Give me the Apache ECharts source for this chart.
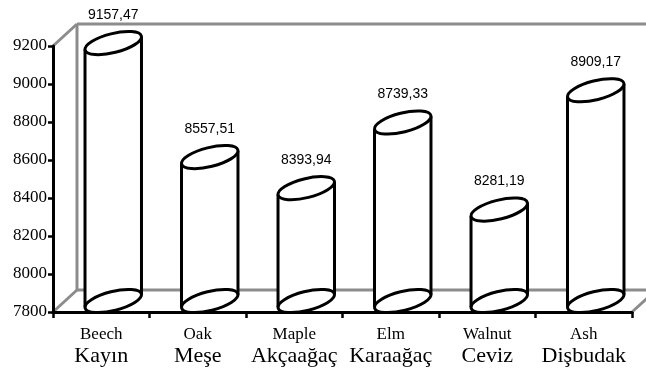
<!DOCTYPE html>
<html>
<head>
<meta charset="utf-8">
<script src="https://cdn.jsdelivr.net/npm/echarts@6/dist/echarts.min.js"></script>
<style>
  html, body { margin: 0; padding: 0; background: #ffffff; }
  #chart { width: 646px; height: 372px; }
</style>
</head>
<body>
<div id="chart"></div>
<script>
// Wood species (English / Turkish) and their measured values
const categoriesEn = ['Beech', 'Oak', 'Maple', 'Elm', 'Walnut', 'Ash'];
const categoriesTr = ['Kayın', 'Meşe', 'Akçaağaç', 'Karaağaç', 'Ceviz', 'Dişbudak'];
const values = [9157.47, 8557.51, 8393.94, 8739.33, 8281.19, 8909.17];

// Value axis range
const yMin = 7800;
const yMax = 9200;
const yStep = 200;

// Pseudo-3D depth of the chart box, in pixels
const DEPTH_X = 24;
const DEPTH_Y = -22;

// Cylinder cross-section (rotated ellipse)
const RX = 29;
const RY = 9.5;
const TILT = 14 * Math.PI / 180;

const SERIF = '"Liberation Serif", "Times New Roman", serif';

const chart = echarts.init(document.getElementById('chart'), null, { renderer: 'canvas' });

const fmt = v => v.toFixed(2).replace('.', ',');

function renderFrame(params, api) {
  const cs = params.coordSys;
  const L = cs.x, T = cs.y, R = cs.x + cs.width, B = cs.y + cs.height;
  const style = { stroke: '#8c8c8c', lineWidth: 3, fill: null };
  const seg = (x1, y1, x2, y2) => ({
    type: 'line',
    shape: { x1, y1, x2, y2 },
    style
  });
  return {
    type: 'group',
    children: [
      seg(L, T, L + DEPTH_X, T + DEPTH_Y),
      seg(L, B, L + DEPTH_X, B + DEPTH_Y),
      seg(R, B, R + DEPTH_X, B + DEPTH_Y),
      seg(L + DEPTH_X, T + DEPTH_Y, L + DEPTH_X, B + DEPTH_Y),
      seg(L + DEPTH_X, T + DEPTH_Y, R + DEPTH_X, T + DEPTH_Y),
      seg(L + DEPTH_X, B + DEPTH_Y, R + DEPTH_X, B + DEPTH_Y),
      seg(R + DEPTH_X, T + DEPTH_Y, R + DEPTH_X, B + DEPTH_Y)
    ]
  };
}

function renderCylinder(params, api) {
  const idx = api.value(0);
  const val = api.value(1);
  const base = api.coord([idx, yMin]);
  const top = api.coord([idx, val]);
  const cx = base[0] + DEPTH_X / 2;
  const botY = base[1] + DEPTH_Y / 2;
  const topY = top[1] + DEPTH_Y / 2;

  const s = Math.sin(TILT), c = Math.cos(TILT);
  const hw = Math.sqrt(RX * RX * c * c + RY * RY * s * s);
  const ty = (RX * RX - RY * RY) * s * c / hw;

  const outline = { stroke: '#000', lineWidth: 3 };
  const ellipse = (cy) => ({
    type: 'ellipse',
    x: cx, y: cy,
    rotation: TILT,
    shape: { cx: 0, cy: 0, rx: RX, ry: RY },
    style: Object.assign({ fill: '#fff' }, outline)
  });

  return {
    type: 'group',
    children: [
      {
        type: 'polygon',
        shape: { points: [
          [cx - hw, topY + ty], [cx + hw, topY - ty],
          [cx + hw, botY - ty], [cx - hw, botY + ty]
        ] },
        style: { fill: '#fff', stroke: null }
      },
      ellipse(botY),
      {
        type: 'line',
        shape: { x1: cx - hw, y1: topY + ty, x2: cx - hw, y2: botY + ty },
        style: outline
      },
      {
        type: 'line',
        shape: { x1: cx + hw, y1: topY - ty, x2: cx + hw, y2: botY - ty },
        style: outline
      },
      ellipse(topY),
      {
        type: 'text',
        x: cx, y: topY - 28,
        style: {
          text: fmt(val),
          fill: '#000',
          font: '14px "Liberation Sans", Arial, sans-serif',
          align: 'center',
          verticalAlign: 'middle'
        }
      }
    ]
  };
}

const option = {
  animation: false,
  backgroundColor: '#ffffff',
  grid: { left: 53, right: 14, top: 46, bottom: 60, containLabel: false, outerBoundsMode: 'none' },
  xAxis: {
    type: 'category',
    data: categoriesEn,
    z: 3,
    axisLine: { lineStyle: { color: '#000', width: 3 } },
    axisTick: { show: true, length: 6, lineStyle: { color: '#000', width: 2.5 } },
    splitLine: { show: false },
    axisLabel: {
      interval: 0,
      margin: 13,
      color: '#000',
      formatter: (v, i) => '{en|' + v + '}\n{tr|' + categoriesTr[i] + '}',
      rich: {
        en: { fontFamily: SERIF, fontSize: 17, lineHeight: 20, color: '#000' },
        tr: { fontFamily: SERIF, fontSize: 22, lineHeight: 22, color: '#000' }
      }
    }
  },
  yAxis: {
    type: 'value',
    min: yMin,
    max: yMax,
    interval: yStep,
    z: 3,
    axisLine: { show: true, lineStyle: { color: '#000', width: 3 } },
    axisTick: { show: true, length: 5, lineStyle: { color: '#000', width: 2.5 } },
    splitLine: { show: false },
    axisLabel: {
      margin: 6,
      color: '#000',
      formatter: v => '{n|' + String(v) + '}',
      rich: {
        n: { fontFamily: SERIF, fontSize: 17, color: '#000' }
      }
    }
  },
  series: [
    {
      type: 'custom',
      name: 'frame',
      z: 1,
      silent: true,
      renderItem: renderFrame,
      data: [[0, yMin]]
    },
    {
      type: 'custom',
      name: 'values',
      z: 2,
      renderItem: renderCylinder,
      encode: { x: 0, y: 1 },
      data: values.map((v, i) => [i, v])
    }
  ]
};

chart.setOption(option);
</script>
</body>
</html>
